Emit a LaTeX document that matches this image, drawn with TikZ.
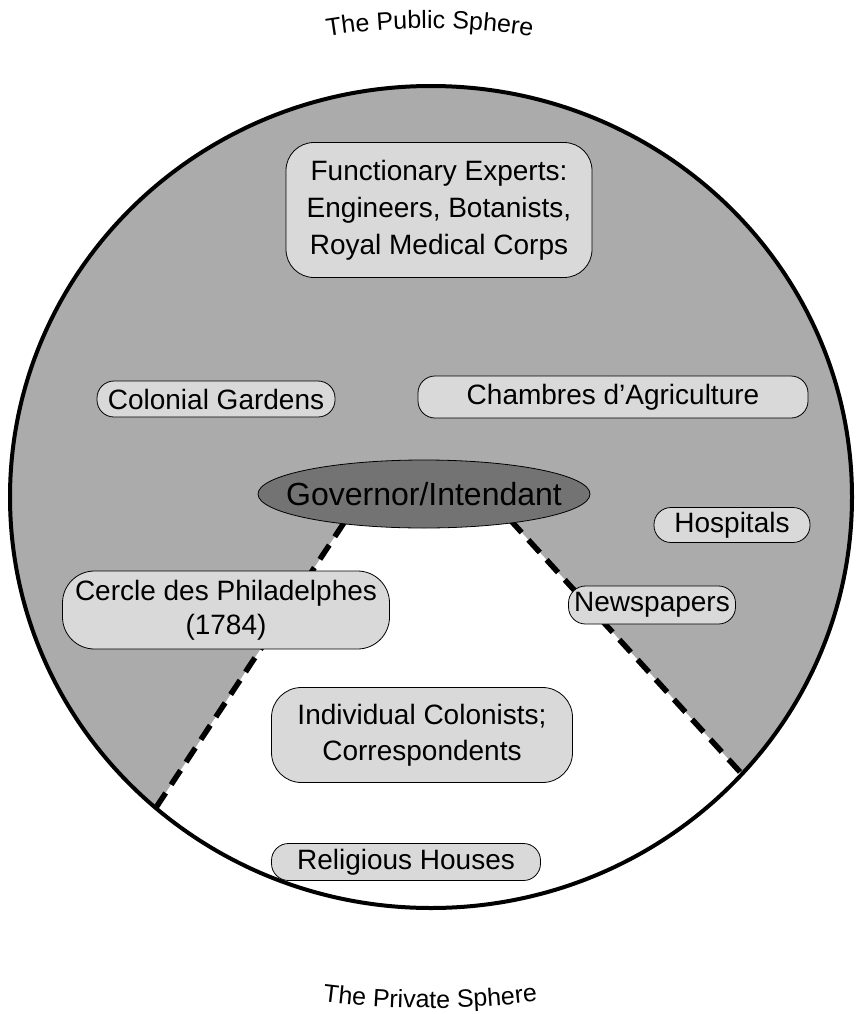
\documentclass[tikz,border=0pt]{standalone}
\usepackage{fontspec}
\setmainfont{Liberation Sans}
\usetikzlibrary{decorations.text}

\begin{document}
\begin{tikzpicture}[x=1pt,y=-1pt]
\tikzstyle{every node}+=[inner sep=0pt]
\tikzstyle{pill}=[draw=black, line width=0.8pt, fill=black!15, rounded corners=17pt, font=\fontsize{28}{34}\selectfont]
\tikzstyle{roundbox}=[draw=black, line width=0.8pt, fill=black!15, rounded corners=30pt, align=center, font=\fontsize{28}{37}\selectfont]
\tikzstyle{border}=[black, line width=5.5pt, dash pattern=on 17pt off 10pt]
\useasboundingbox (0,0) rectangle (862,1014);
\fill [white] (0,0) rectangle (862,1014);
\coordinate (c) at (431,497);
\coordinate (govc) at (424,494);
\coordinate (lt) at (359,500);
\coordinate (lb) at (29,1000);
\coordinate (rt) at (492,500);
\coordinate (rb) at (948,1000);
\fill [black!33] (c) ellipse (421pt and 411pt);
\begin{scope}
\clip (c) ellipse (421pt and 411pt);
\fill [white] (lt) -- (lb) -- (rb) -- (rt) -- cycle;
\draw [border] (lt) -- (lb);
\draw [border] (rt) -- (rb);
\end{scope}
\draw [black, line width=4pt] (c) ellipse (421pt and 411pt);
\draw [black, line width=0.8pt, fill=black!55] (govc) ellipse (166pt and 34pt);
\node [font=\fontsize{32}{38}\selectfont] (gov) at (govc) {Governor/Intendant};
\node [roundbox, minimum width=306pt, minimum height=135pt, rounded corners=28pt] (func) at (439,210) {Functionary Experts:\\Engineers, Botanists,\\Royal Medical Corps};
\node [pill, minimum width=238pt, minimum height=36pt] (gardens) at (216,399) {Colonial Gardens};
\node [pill, minimum width=390pt, minimum height=42pt] (chambres) at (613,397) {Chambres d'Agriculture};
\node [pill, minimum width=156pt, minimum height=35pt] (hosp) at (732,525) {Hospitals};
\node [roundbox, minimum width=327pt, minimum height=78pt, rounded corners=32pt, font=\fontsize{28}{34}\selectfont] (cercle) at (226,610) {Cercle des Philadelphes\\(1784)};
\node [pill, minimum width=167pt, minimum height=38pt] (news) at (652,605) {Newspapers};
\node [roundbox, minimum width=301pt, minimum height=95pt, font=\fontsize{28}{36}\selectfont] (indiv) at (422,735) {Individual Colonists;\\Correspondents};
\node [pill, minimum width=269pt, minimum height=37pt] (relig) at (406,862) {Religious Houses};
\path [decorate, decoration={text along path, text align=center, text={|\fontsize{25}{30}\selectfont|The Public Sphere}}] (317,38) arc (259.9:280.1:643);
\path [decorate, decoration={text along path, text align=center, text={|\fontsize{25}{30}\selectfont|The Private Sphere}}] (314,1000) arc (97.9:82.1:845);
\end{tikzpicture}
\end{document}
